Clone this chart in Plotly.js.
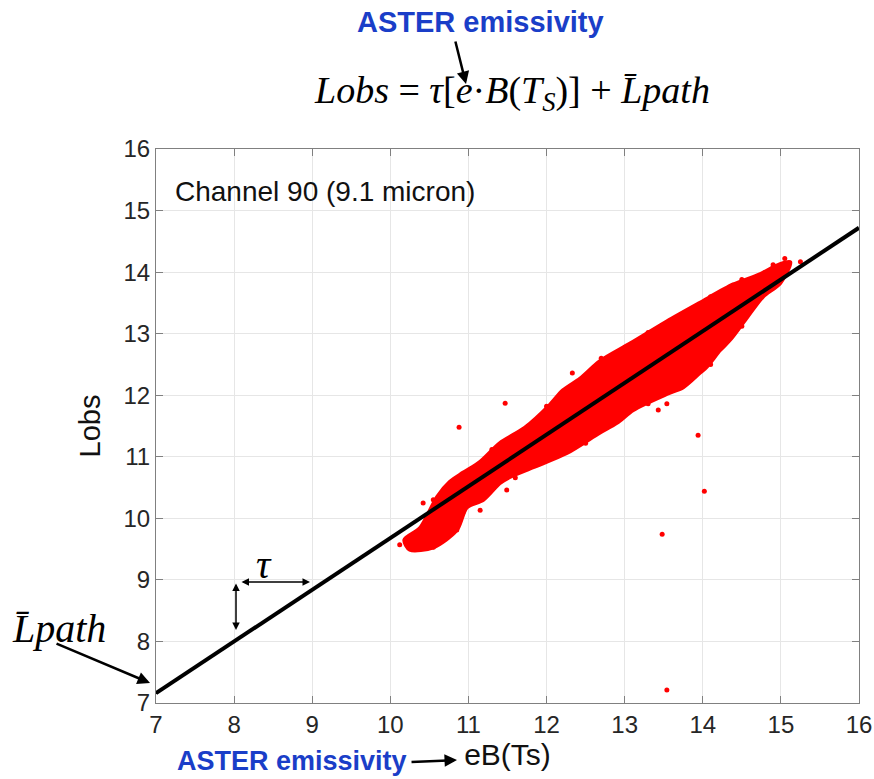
<!DOCTYPE html>
<html>
<head>
<meta charset="utf-8">
<script src="https://cdn.plot.ly/plotly-3.0.1.min.js"></script>
<style>html,body{margin:0;padding:0;background:#fff;}#chart{width:874px;height:779px;}</style>
</head>
<body>
<div id="chart"></div>
<script>
// Axis ticks
const tickVals = [7, 8, 9, 10, 11, 12, 13, 14, 15, 16];
const tickText = ['7', '8', '9', '10', '11', '12', '13', '14', '15', '16'];

// Outline of the dense point cloud (eB(Ts), Lobs)
const cloudX = [10.18, 10.38, 10.60, 10.76, 10.93, 11.15, 11.40, 11.72, 12.04, 12.21, 12.43, 12.68, 13.07, 13.54, 13.96, 14.39, 14.60, 14.77, 14.99, 15.12,
                14.99, 14.77, 14.57, 14.35, 14.22, 14.05, 13.96, 13.75, 13.54, 13.11, 12.90, 12.68, 12.26, 11.83, 11.53, 11.40, 11.19, 10.98, 10.85, 10.55, 10.25, 10.18];
const cloudY = [9.65, 9.84, 10.35, 10.59, 10.74, 10.92, 11.22, 11.47, 11.84, 12.08, 12.27, 12.55, 12.84, 13.20, 13.50, 13.80, 13.90, 13.99, 14.13, 14.16,
                13.82, 13.60, 13.27, 12.90, 12.73, 12.46, 12.36, 12.13, 12.02, 11.76, 11.55, 11.39, 11.06, 10.83, 10.67, 10.57, 10.30, 10.18, 9.81, 9.53, 9.49, 9.65];

// Scattered edge points and outliers
const dotX = [10.12, 10.29, 10.51, 10.47, 10.73, 10.85, 10.55, 10.93, 11.15, 11.24, 11.49, 10.42, 10.55, 10.25, 10.38,
              11.30, 12.00, 12.70, 13.30, 14.10, 14.50, 14.90, 11.60, 12.50, 13.30, 14.10, 14.50,
              11.47, 10.88, 12.33, 13.94, 14.02, 13.48, 13.54, 13.43, 13.54, 15.25, 15.05, 14.90];
const dotY = [9.57, 9.70, 9.92, 10.02, 10.18, 9.81, 9.53, 10.10, 10.13, 10.41, 10.46, 10.25, 10.30, 9.57, 9.65,
              11.12, 11.82, 12.60, 13.02, 13.60, 13.88, 14.08, 10.66, 11.22, 11.86, 12.50, 13.12,
              11.87, 11.48, 12.36, 11.35, 10.44, 9.74, 7.21, 11.76, 11.86, 14.17, 14.22, 14.12];

// Regression line
const lineX = [7, 16];
const lineY = [7.16, 14.72];

const blue = '#1a3ec8';
const sans = 'Liberation Sans, Arial, sans-serif';
const serif = 'Liberation Serif, Times New Roman, serif';

const traces = [
  {x: cloudX, y: cloudY, type: 'scatter', mode: 'lines', fill: 'toself', fillcolor: '#ff0000',
   line: {color: '#ff0000', width: 4, shape: 'spline', smoothing: 0.8}, hoverinfo: 'skip', showlegend: false},
  {x: dotX, y: dotY, type: 'scatter', mode: 'markers', marker: {color: '#ff0000', size: 5},
   hoverinfo: 'skip', showlegend: false},
  {x: lineX, y: lineY, type: 'scatter', mode: 'lines', line: {color: '#000000', width: 4},
   hoverinfo: 'skip', showlegend: false}
];

const axisBase = {
  range: [7, 16], tickvals: tickVals, ticktext: tickText,
  showgrid: true, gridcolor: '#e6e6e6', gridwidth: 1, zeroline: false,
  showline: true, linecolor: '#808080', linewidth: 1, mirror: 'ticks',
  ticks: 'inside', ticklen: 7, tickcolor: '#808080',
  tickfont: {family: sans, size: 24, color: '#262626'}
};

const arrowBase = {xref: 'paper', yref: 'paper', text: '', showarrow: true,
  arrowcolor: '#000', arrowhead: 2, arrowsize: 1, arrowwidth: 2.5, standoff: 0, startstandoff: 0};

const layout = {
  width: 874, height: 779,
  margin: {l: 156, r: 15, t: 149, b: 76},
  paper_bgcolor: '#ffffff', plot_bgcolor: '#ffffff',
  showlegend: false,
  xaxis: Object.assign({}, axisBase, {title: {text: 'eB(Ts)', font: {family: sans, size: 30, color: '#111'}, standoff: 4}}),
  yaxis: Object.assign({}, axisBase, {title: {text: 'Lobs', font: {family: sans, size: 29, color: '#111'}, standoff: 14}}),
  annotations: [
    {xref: 'paper', yref: 'paper', x: 0.4623, y: 1.229, text: '<b>ASTER emissivity</b>', showarrow: false,
     font: {family: sans, size: 29, color: blue}, xanchor: 'center', yanchor: 'middle'},
    {xref: 'paper', yref: 'paper', x: 0.5064, y: 1.101,
     text: '<i>Lobs</i> = <i>τ</i>[<i>e</i>·<i>B</i>(<i>T<sub>S</sub></i>)] + <i>L\u0304path</i>', showarrow: false,
     font: {family: serif, size: 38, color: '#000'}, xanchor: 'center', yanchor: 'middle'},
    {xref: 'paper', yref: 'paper', x: 0.0242, y: 0.9224, text: 'Channel 90 (9.1 micron)', showarrow: false,
     font: {family: sans, size: 28, color: '#111'}, xanchor: 'left', yanchor: 'middle'},
    {xref: 'paper', yref: 'paper', x: -0.2077, y: 0.135, text: '<i>L\u0304path</i>', showarrow: false,
     font: {family: serif, size: 40, color: '#000'}, xanchor: 'left', yanchor: 'middle'},
    {xref: 'paper', yref: 'paper', x: 0.1536, y: 0.2509, text: '<i>τ</i>', showarrow: false,
     font: {family: serif, size: 40, color: '#000'}, xanchor: 'center', yanchor: 'middle'},
    {xref: 'paper', yref: 'paper', x: 0.027, y: -0.1047, text: '<b>ASTER emissivity</b>', showarrow: false,
     font: {family: sans, size: 27, color: blue}, xanchor: 'left', yanchor: 'middle'},
    Object.assign({}, arrowBase, {x: 0.441, y: 1.1173, ax: -11, ay: -44}),
    Object.assign({}, arrowBase, {x: -0.0085, y: 0.0361, ax: -95, ay: -40}),
    Object.assign({}, arrowBase, {x: 0.1138, y: 0.1318, ax: 0, ay: -48, arrowside: 'end+start', arrowwidth: 1.5, arrowhead: 2}),
    Object.assign({}, arrowBase, {x: 0.2191, y: 0.2184, ax: -70, ay: 0, arrowside: 'end+start', arrowwidth: 1.5, arrowhead: 2}),
    Object.assign({}, arrowBase, {x: 0.4282, y: -0.1029, ax: -47, ay: 2, arrowwidth: 2.5})
  ]
};

Plotly.newPlot('chart', traces, layout, {displayModeBar: false, staticPlot: true});
</script>
</body>
</html>
